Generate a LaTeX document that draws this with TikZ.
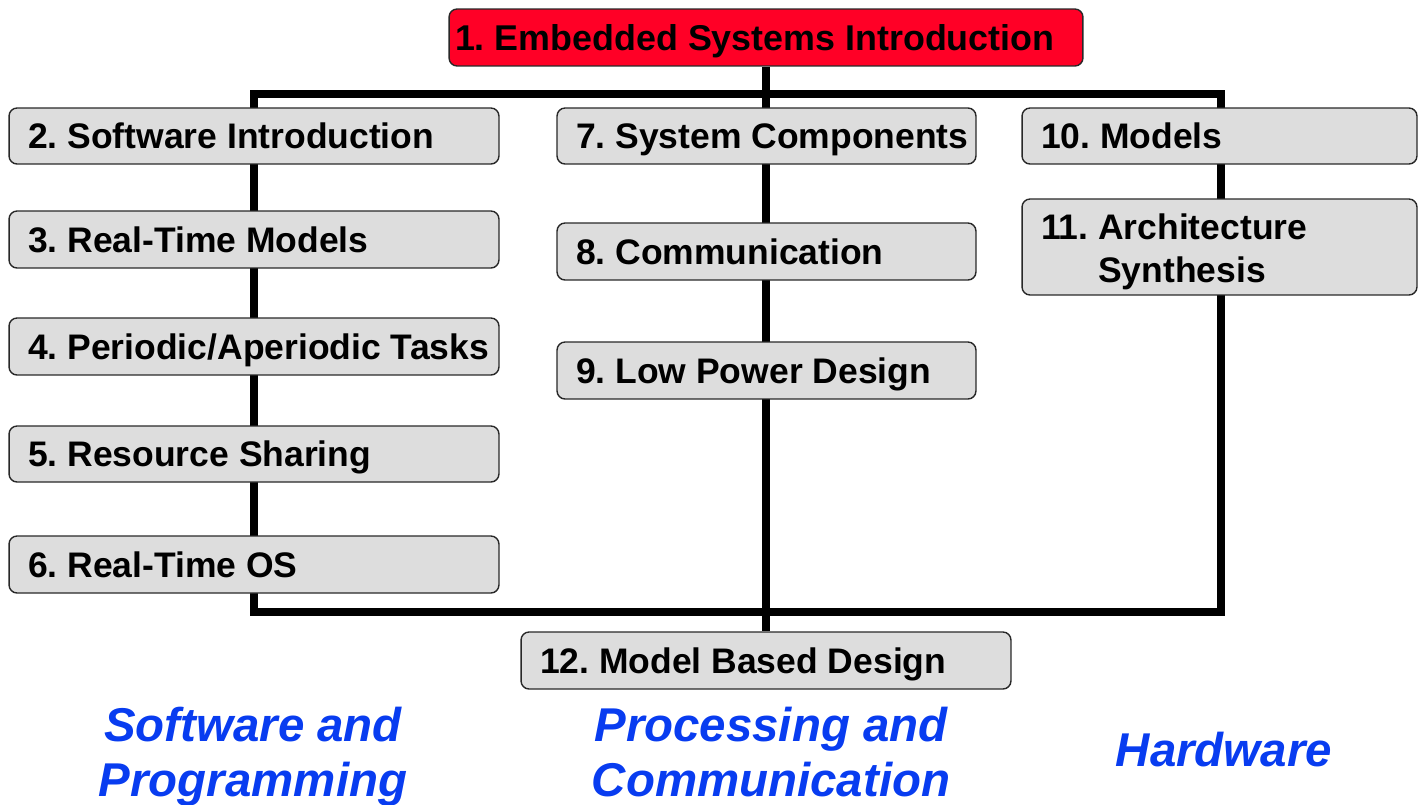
\documentclass[tikz,border=0pt]{standalone}
\usepackage{fontspec}
\setmainfont{Liberation Sans}
\usetikzlibrary{backgrounds}
\definecolor{boxred}{RGB}{255,0,38}
\definecolor{boxgray}{RGB}{221,221,221}
\definecolor{boxedge}{RGB}{40,40,40}
\definecolor{labblue}{RGB}{8,60,240}
\newcommand{\lline}[2]{\makebox[#1][l]{\rule[-6pt]{0pt}{26.5pt}#2}}
\begin{document}
\frenchspacing
\begin{tikzpicture}[x=0.02cm,y=-0.02cm,
  topic/.style={draw=boxedge, line width=0.8pt, rounded corners=0.16cm, fill=boxgray,
    inner xsep=0.38cm, inner ysep=0pt, align=left,
    font=\fontsize{20.2}{24.5}\selectfont\bfseries},
  redtopic/.style={topic, fill=boxred, inner xsep=0.12cm, font=\fontsize{20.4}{24.5}\selectfont\bfseries},
  bar/.style={line width=4.6pt},
  area/.style={text=labblue, align=center, font=\fontsize{27}{31.3}\selectfont\bfseries\itshape}]
\useasboundingbox (0,0) rectangle (1421,805);
% nodes
\node[redtopic, minimum width=12.68cm, minimum height=1.14cm] (b1) at (766,37.5) {\lline{12.44cm}{1. Embedded Systems Introduction}};
\node[topic, minimum width=9.8cm, minimum height=1.12cm] (b2) at (254,136) {\lline{9.04cm}{2. Software Introduction}};
\node[topic, minimum width=9.8cm, minimum height=1.14cm] (b3) at (254,239.5) {\lline{9.04cm}{3. Real-Time Models}};
\node[topic, minimum width=9.8cm, minimum height=1.14cm] (b4) at (254,346.5) {\lline{9.04cm}{4. Periodic/Aperiodic Tasks}};
\node[topic, minimum width=9.8cm, minimum height=1.12cm] (b5) at (254,454) {\lline{9.04cm}{5. Resource Sharing}};
\node[topic, minimum width=9.8cm, minimum height=1.14cm] (b6) at (254,564.5) {\lline{9.04cm}{6. Real-Time OS}};
\node[topic, minimum width=8.38cm, minimum height=1.12cm] (b7) at (766.5,136) {\lline{7.62cm}{7. System Components}};
\node[topic, minimum width=8.38cm, minimum height=1.14cm] (b8) at (766.5,251.5) {\lline{7.62cm}{8. Communication}};
\node[topic, minimum width=8.38cm, minimum height=1.14cm] (b9) at (766.5,370.5) {\lline{7.62cm}{9. Low Power Design}};
\node[topic, minimum width=7.9cm, minimum height=1.12cm] (b10) at (1219.5,136) {\lline{7.14cm}{10. Models}};
\node[topic, minimum width=7.9cm, minimum height=1.92cm] (b11) at (1219.5,247) {\makebox[7.14cm][l]{\rule{0pt}{20.5pt}11. Architecture}\\\makebox[7.14cm][l]{\phantom{11. }Synthesis}};
\node[topic, minimum width=9.8cm, minimum height=1.14cm] (b12) at (766,660.5) {\lline{9.04cm}{12. Model Based Design}};
% area labels
\node[area] (l1) at (253,758) {Software and\strut\\Programming\strut};
\node[area] (l2) at (771,758) {Processing and\strut\\Communication\strut};
\node[area] (l3) at (1224,750) {Hardware};
% connectors
\coordinate (tl) at (254,94);
\coordinate (br) at (1221,612);
\begin{scope}[on background layer]
\draw[bar] (tl) rectangle (br);
\draw[bar] (b1.south) -- (b12.north);
\end{scope}
\end{tikzpicture}
\end{document}
